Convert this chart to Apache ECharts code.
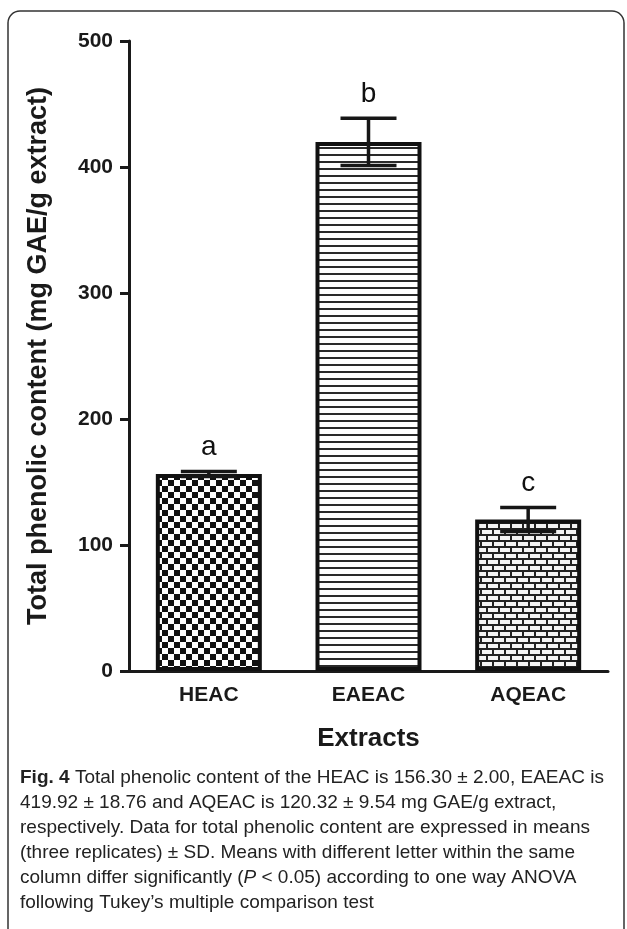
<!DOCTYPE html>
<html>
<head>
<meta charset="utf-8">
<script src="https://cdn.jsdelivr.net/npm/echarts@6/dist/echarts.min.js"></script>
<style>
html,body{margin:0;padding:0;background:#fff;}
#chart{width:627px;height:929px;}
</style>
</head>
<body>
<div id="chart"></div>
<script>
const categories = ['HEAC', 'EAEAC', 'AQEAC'];
const means = [156.30, 419.92, 120.32];
const sds = [2.00, 18.76, 9.54];
const letters = ['a', 'b', 'c'];
const yTicks = [0, 100, 200, 300, 400, 500];
const yTitle = 'Total phenolic content (mg GAE/g extract)';
const xTitle = 'Extracts';
const captionLines = [
  '{b|Fig. 4}{n| Total phenolic content of the HEAC is 156.30 ± 2.00, EAEAC is}',
  '{n|419.92 ± 18.76 and AQEAC is 120.32 ± 9.54 mg GAE/g extract,}',
  '{n|respectively. Data for total phenolic content are expressed in means}',
  '{n|(three replicates) ± SD. Means with different letter within the same}',
  '{n|column differ significantly (}{i|P}{n| < 0.05) according to one way ANOVA}',
  '{n|following Tukey’s multiple comparison test}'
];

function makeCanvas(w, h) {
  const c = document.createElement('canvas');
  c.width = w; c.height = h;
  return c;
}
function checkerPattern() {
  const c = makeCanvas(12, 12), g = c.getContext('2d');
  g.fillStyle = '#fff'; g.fillRect(0, 0, 12, 12);
  g.fillStyle = '#111';
  g.fillRect(0, 0, 6, 6); g.fillRect(6, 6, 6, 6);
  return c;
}
function linePattern() {
  const c = makeCanvas(8, 7), g = c.getContext('2d');
  g.fillStyle = '#fff'; g.fillRect(0, 0, 8, 7);
  g.fillStyle = '#2a2a2a'; g.fillRect(0, 0, 8, 2);
  return c;
}
function brickPattern() {
  const c = makeCanvas(12, 12), g = c.getContext('2d');
  g.fillStyle = '#222'; g.fillRect(0, 0, 12, 12);
  g.fillStyle = '#f4f4f4';
  g.fillRect(2, 2, 10, 4);
  g.fillRect(0, 8, 6, 4); g.fillRect(8, 8, 4, 4);
  return c;
}
const patterns = [checkerPattern(), linePattern(), brickPattern()];

const chart = echarts.init(document.getElementById('chart'), null, {renderer: 'canvas'});

const barData = means.map((v, i) => ({
  value: v,
  itemStyle: {color: {image: patterns[i], repeat: 'repeat'}}
}));
const errData = means.map((v, i) => [i, v - sds[i], v + sds[i]]);

const axisColor = '#1a1a1a';
const fontFam = '"Liberation Sans", Arial, sans-serif';

chart.setOption({
  animation: false,
  backgroundColor: '#fff',
  grid: {left: 129, right: 19, top: 41, bottom: 258, containLabel: false},
  xAxis: {
    type: 'category',
    data: categories,
    boundaryGap: true,
    name: xTitle,
    nameLocation: 'middle',
    nameGap: 55,
    nameTextStyle: {fontFamily: fontFam, fontWeight: 'bold', fontSize: 26, color: axisColor},
    axisLine: {lineStyle: {color: axisColor, width: 3}},
    axisTick: {alignWithLabel: true, length: 9, lineStyle: {color: axisColor, width: 3}},
    axisLabel: {margin: 14, fontFamily: fontFam, fontWeight: 'bold', fontSize: 21, color: axisColor}
  },
  yAxis: {
    type: 'value',
    min: 0, max: 500, interval: 100,
    name: yTitle,
    nameLocation: 'middle',
    nameGap: 77,
    nameRotate: 90,
    nameTextStyle: {fontFamily: fontFam, fontWeight: 'bold', fontSize: 27, color: axisColor},
    axisLine: {show: true, lineStyle: {color: axisColor, width: 3}},
    axisTick: {show: true, length: 9, lineStyle: {color: axisColor, width: 3}},
    axisLabel: {margin: 16, fontFamily: fontFam, fontWeight: 'bold', fontSize: 21, color: axisColor,
      formatter: v => yTicks.indexOf(v) >= 0 ? String(v) : ''},
    splitLine: {show: false}
  },
  series: [
    {
      type: 'bar',
      data: barData,
      barWidth: 106,
      itemStyle: {borderColor: '#111', borderWidth: 4},
      z: 2
    },
    {
      type: 'custom',
      data: errData,
      z: 5,
      renderItem: function (params, api) {
        const i = api.value(0);
        const lo = api.coord([i, api.value(1)]);
        const hi = api.coord([i, api.value(2)]);
        const half = 28;
        const st = {stroke: '#161616', lineWidth: 3.5};
        return {
          type: 'group',
          children: [
            {type: 'line', shape: {x1: hi[0], y1: hi[1], x2: lo[0], y2: lo[1]}, style: st},
            {type: 'line', shape: {x1: hi[0] - half, y1: hi[1], x2: hi[0] + half, y2: hi[1]}, style: st},
            {type: 'line', shape: {x1: lo[0] - half, y1: lo[1], x2: lo[0] + half, y2: lo[1]}, style: st},
            {type: 'text', style: {text: letters[params.dataIndex], x: hi[0], y: hi[1] - 24,
              align: 'center', verticalAlign: 'middle', fontFamily: fontFam, fontSize: 28, fill: '#111'}}
          ]
        };
      }
    }
  ],
  graphic: [
    {type: 'rect', shape: {x: 8, y: 11, width: 616, height: 1000, r: [12, 12, 0, 0]},
      style: {fill: 'none', stroke: '#333', lineWidth: 1.5}, silent: true},
    {type: 'text', left: 20, top: 768,
      style: {
        text: captionLines.join('\n'),
        rich: {
          b: {fontFamily: fontFam, fontWeight: 'bold', fontSize: 19, lineHeight: 25, fill: '#222'},
          n: {fontFamily: fontFam, fontSize: 19, lineHeight: 25, fill: '#222'},
          i: {fontFamily: fontFam, fontStyle: 'italic', fontSize: 19, lineHeight: 25, fill: '#222'}
        }
      }}
  ]
});
</script>
</body>
</html>
